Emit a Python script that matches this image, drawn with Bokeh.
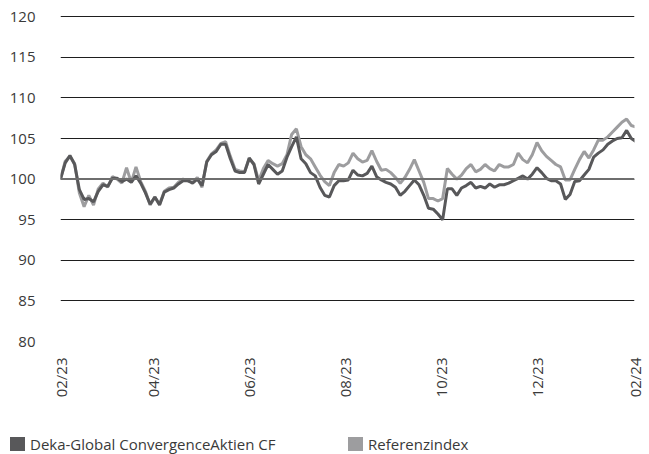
import pandas as pd
from math import pi
from bokeh.plotting import figure
from bokeh.layouts import column
from bokeh.models import FixedTicker, Span, Range1d, Div
from bokeh.embed import file_html
from bokeh.resources import INLINE

# ---- data ----
start_date = "2023-02-01"
step = "3D"
fund = [100.0, 102.0, 102.9, 101.8, 98.7, 97.5, 97.6, 97.2, 98.5, 99.3,
        99.1, 100.1, 100.1, 99.7, 100.0, 99.6, 100.4, 99.5, 98.3, 96.9,
        97.8, 96.8, 98.4, 98.7, 98.9, 99.4, 99.8, 99.8, 99.5, 100.0,
        99.2, 102.1, 103.0, 103.4, 104.3, 104.3, 102.5, 101.0, 100.8, 100.8,
        102.6, 101.8, 99.4, 100.6, 101.8, 101.2, 100.6, 101.0, 102.7, 104.0,
        105.2, 102.5, 101.9, 100.8, 100.4, 99.0, 98.0, 97.8, 99.2, 99.8,
        99.8, 99.9, 101.1, 100.5, 100.4, 100.7, 101.6, 100.3, 99.9, 99.6,
        99.4, 99.0, 98.0, 98.5, 99.2, 99.9, 99.3, 98.0, 96.4, 96.3,
        95.7, 95.0, 98.8, 98.8, 98.0, 98.9, 99.2, 99.6, 98.9, 99.1,
        98.9, 99.4, 99.0, 99.3, 99.3, 99.5, 99.8, 100.1, 100.4, 100.0,
        100.6, 101.4, 100.8, 100.1, 99.8, 99.8, 99.4, 97.5, 98.1, 99.7,
        99.8, 100.5, 101.2, 102.7, 103.2, 103.6, 104.3, 104.7, 105.0, 105.1,
        106.0, 105.0, 104.6]
benchmark = [100.0, 102.2, 102.8, 101.9, 98.3, 96.6, 98.0, 96.8, 98.8, 99.5,
             99.0, 100.3, 100.0, 99.5, 101.4, 99.6, 101.5, 99.7, 98.5, 96.8,
             97.8, 96.9, 98.5, 98.9, 99.0, 99.6, 100.0, 99.8, 99.6, 100.2,
             99.0, 102.2, 103.1, 103.6, 104.4, 104.6, 102.8, 101.2, 101.0, 100.9,
             102.5, 101.9, 99.8, 101.3, 102.3, 101.9, 101.6, 101.9, 103.0, 105.5,
             106.2, 104.0, 103.0, 102.5, 101.5, 100.5, 99.7, 99.2, 100.8, 101.8,
             101.6, 102.0, 103.2, 102.5, 102.1, 102.3, 103.5, 102.2, 101.1, 101.2,
             100.8, 100.2, 99.5, 100.2, 101.2, 102.4, 101.0, 99.6, 97.6, 97.6,
             97.3, 97.6, 101.3, 100.6, 100.0, 100.5, 101.3, 101.8, 100.9, 101.2,
             101.8, 101.3, 101.0, 101.8, 101.5, 101.5, 101.8, 103.2, 102.4, 102.0,
             103.0, 104.5, 103.5, 102.8, 102.3, 101.8, 101.5, 99.9, 99.9, 101.2,
             102.4, 103.4, 102.6, 103.6, 104.8, 104.8, 105.2, 105.8, 106.4, 107.0,
             107.4, 106.6, 106.4]
series_names = ["Deka-Global ConvergenceAktien CF", "Referenzindex"]
tick_dates = ["2023-02-01", "2023-04-01", "2023-06-01", "2023-08-01",
              "2023-10-01", "2023-12-01", "2024-02-01"]
tick_labels = ["02/23", "04/23", "06/23", "08/23", "10/23", "12/23", "02/24"]
y_ticks = [80, 85, 90, 95, 100, 105, 110, 115, 120]

dates = pd.date_range(start_date, periods=len(fund), freq=step)
tick_ms = [pd.Timestamp(d).value / 1e6 for d in tick_dates]

DARK = "#58585a"
LIGHT = "#9d9d9f"
FONT = "Open Sans"
TEXT = "#3a3a3a"
FS = "15px"

p = figure(width=649, height=420, x_axis_type="datetime",
           output_backend="svg", toolbar_location=None,
           x_range=Range1d(pd.Timestamp(tick_dates[0]), pd.Timestamp(tick_dates[-1])),
           y_range=Range1d(y_ticks[0], y_ticks[-1] + 0.15),
           min_border_left=60, min_border_right=15, min_border_top=15,
           min_border_bottom=79)
p.outline_line_color = None
p.background_fill_color = "white"

p.xgrid.visible = False
p.ygrid.ticker = FixedTicker(ticks=y_ticks)
p.ygrid.grid_line_color = "#1e1e1e"
p.ygrid.grid_line_width = 1

p.line(dates, benchmark, line_color=LIGHT, line_width=3)
p.line(dates, fund, line_color=DARK, line_width=3)

p.add_layout(Span(location=100, dimension="width", line_color="#6e6e6e", line_width=2))

# axes
p.yaxis.ticker = FixedTicker(ticks=y_ticks)
p.yaxis.axis_line_color = None
p.yaxis.major_tick_line_color = None
p.yaxis.minor_tick_line_color = None
p.yaxis.major_label_standoff = 19
p.yaxis.major_label_text_font = FONT
p.yaxis.major_label_text_font_size = FS
p.yaxis.major_label_text_color = TEXT

p.xaxis.ticker = FixedTicker(ticks=tick_ms)
p.xaxis.major_label_overrides = {t: l for t, l in zip(tick_ms, tick_labels)}
p.xaxis.major_label_orientation = pi / 2
p.xaxis.axis_line_color = None
p.xaxis.major_tick_line_color = None
p.xaxis.minor_tick_line_color = None
p.xaxis.major_label_standoff = 10
p.xaxis.major_label_text_font = FONT
p.xaxis.major_label_text_font_size = FS
p.xaxis.major_label_text_color = TEXT

# legend strip below the chart (square swatches + labels)
def item(color, label, left):
    return (f'<span style="position:absolute;left:{left}px;top:17px;width:15px;'
            f'height:14px;background:{color};"></span>'
            f'<span style="position:absolute;left:{left + 20}px;top:14px;'
            f'line-height:20px;white-space:nowrap;">{label}</span>')

legend_html = ('<div style="position:relative;width:649px;height:34px;'
               f'font-family:\'{FONT}\';font-size:{FS};color:{TEXT};">'
               + item(DARK, series_names[0], 10)
               + item(LIGHT, series_names[1], 348)
               + '</div>')
legend = Div(text=legend_html, width=649, height=34, margin=(0, 0, 0, 0))

layout = column(p, legend, spacing=0)
open("out.html", "w").write(file_html(layout, INLINE))
